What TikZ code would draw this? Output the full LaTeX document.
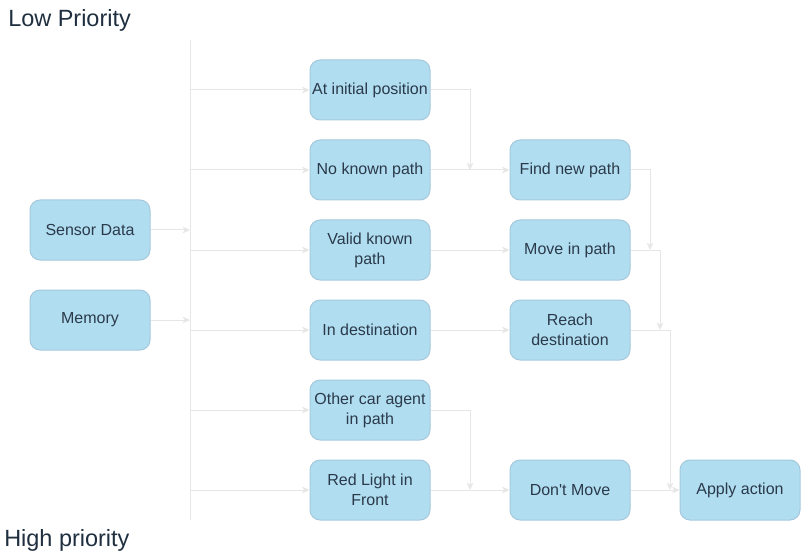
\documentclass[tikz,border=0pt]{standalone}
\usepackage{fontspec}
\setmainfont{Liberation Sans}
\usetikzlibrary{arrows.meta,positioning}
\definecolor{boxfill}{HTML}{B1DDF0}
\definecolor{boxline}{HTML}{A6C8DC}
\definecolor{boxtext}{HTML}{2A3A4A}
\definecolor{titletext}{HTML}{1F2F3F}
\definecolor{wire}{HTML}{E6E6E6}
\tikzset{
  stepbox/.style={rectangle, rounded corners=7.5pt, minimum width=90pt, minimum height=45pt,
    fill=boxfill, draw=boxline, line width=0.75pt, text=boxtext, align=center,
    font=\fontsize{12pt}{15pt}\selectfont, inner sep=1pt},
  wireline/.style={draw=wire, line width=0.75pt},
  arr/.style={wireline, -{Stealth[length=5.5pt,width=5pt,inset=1.5pt]}},
  titlelabel/.style={text=titletext, font=\fontsize{17.6pt}{20pt}\selectfont, anchor=west, inner sep=0pt}
}
\begin{document}
\begin{tikzpicture}[x=0.75pt,y=-0.75pt]
\useasboundingbox (0,0) rectangle (801,560);
% titles
\node[titlelabel] (lowp) at (8,20) {Low Priority};
\node[titlelabel] (highp) at (4,540) {High priority};
% bus
\coordinate (bustop) at (190,40);
\coordinate (busbot) at (190,520);
\draw[wireline] (bustop) -- (busbot);
% inputs
\node[stepbox] (sd) at (90,230) {Sensor Data};
\node[stepbox] (mem) at (90,320) {Memory};
% conditions
\node[stepbox] (c1) at (370,90) {At initial position};
\node[stepbox] (c2) at (370,170) {No known path};
\node[stepbox] (c3) at (370,250) {Valid known\\path};
\node[stepbox] (c4) at (370,330) {In destination};
\node[stepbox] (c5) at (370,410) {Other car agent\\in path};
\node[stepbox] (c6) at (370,490) {Red Light in\\Front};
% actions
\node[stepbox] (a1) at (570,170) {Find new path};
\node[stepbox] (a2) at (570,250) {Move in path};
\node[stepbox] (a3) at (570,330) {Reach\\destination};
\node[stepbox] (a4) at (570,490) {Don\textquotesingle t Move};
\node[stepbox] (out) at (740,490) {Apply action};
% junctions
\coordinate (j1) at (470,170);
\coordinate (j2) at (650,250);
\coordinate (j3) at (660,330);
\coordinate (j4) at (670,490);
\coordinate (j5) at (470,490);
% input arrows
\draw[arr] (sd.east) -- (bustop |- sd.east);
\draw[arr] (mem.east) -- (bustop |- mem.east);
% bus to conditions
\foreach \n in {c1,c2,c3,c4,c5,c6}{
  \draw[arr] (bustop |- \n.west) -- (\n.west);
}
% conditions to actions
\draw[arr] (c1.east) -| (j1);
\draw[arr] (c2.east) -- (a1.west);
\draw[arr] (c3.east) -- (a2.west);
\draw[arr] (c4.east) -- (a3.west);
\draw[arr] (c5.east) -| (j5);
\draw[arr] (c6.east) -- (a4.west);
% actions to apply
\draw[arr] (a1.east) -| (j2);
\draw[arr] (a2.east) -| (j3);
\draw[arr] (a3.east) -| (j4);
\draw[arr] (a4.east) -- (out.west);
\end{tikzpicture}
\end{document}
